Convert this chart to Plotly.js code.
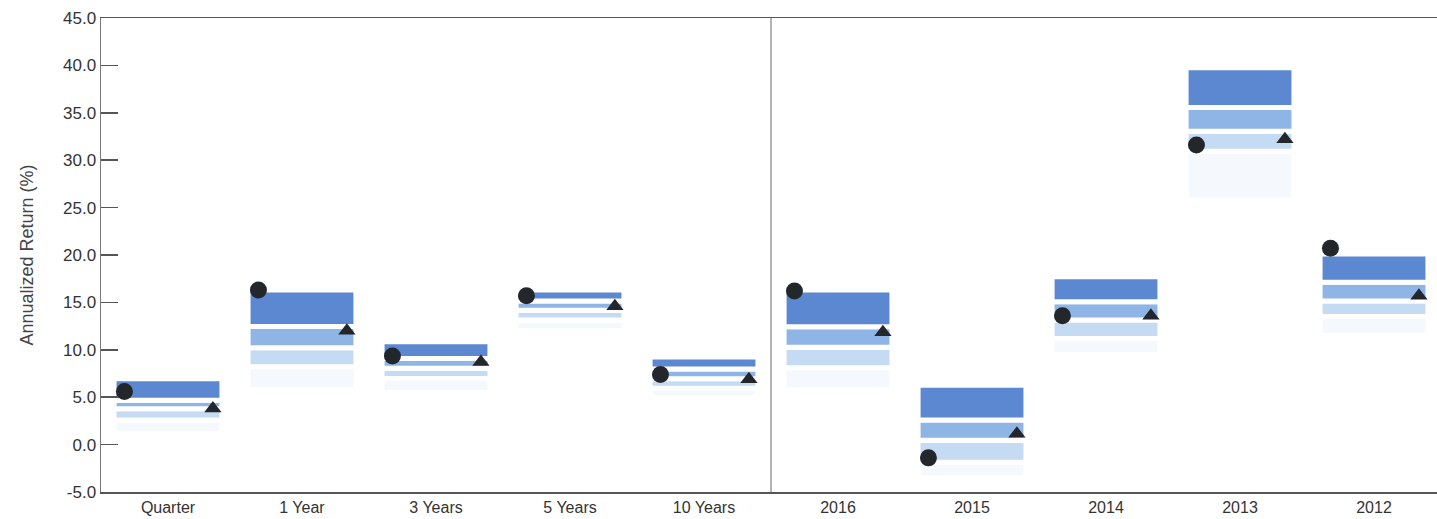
<!DOCTYPE html>
<html>
<head>
<meta charset="utf-8">
<script src="https://cdn.plot.ly/plotly-3.0.1.min.js"></script>
<style>
  html, body { margin: 0; padding: 0; background: #ffffff; }
  #chart { width: 1437px; height: 519px; }
</style>
</head>
<body>
<div id="chart"></div>
<script>
// Categories (periods)
const categories = ['Quarter', '1 Year', '3 Years', '5 Years', '10 Years', '2016', '2015', '2014', '2013', '2012'];

// Y tick labels
const yTickVals = [-5, 0, 5, 10, 15, 20, 25, 30, 35, 40, 45];
const yTickText = ['-5.0', '0.0', '5.0', '10.0', '15.0', '20.0', '25.0', '30.0', '35.0', '40.0', '45.0'];

// Peer-group percentile boundaries (%)
const p5  = [6.95, 16.3, 10.84, 16.3, 9.25, 16.3, 6.26, 17.7, 39.76, 20.1];
const p25 = [4.68, 12.47, 9.08, 15.15, 7.98, 12.44, 2.6, 15.07, 35.55, 17.13];
const p50 = [3.78, 10.22, 8.06, 14.18, 6.95, 10.28, 0.45, 13.15, 33.05, 15.15];
const p75 = [2.6, 8.2, 6.97, 13.14, 5.95, 8.1, -1.85, 11.2, 30.95, 13.5];
const p95 = [1.2, 5.8, 5.5, 12.0, 5.0, 5.8, -3.5, 9.5, 25.8, 11.5];

// Fund (circle) and benchmark (triangle) returns (%)
const fund      = [5.6, 16.3, 9.35, 15.7, 7.4, 16.2, -1.4, 13.6, 31.6, 20.7];
const benchmark = [3.8, 12.0, 8.7, 14.6, 6.9, 11.85, 1.15, 13.6, 32.2, 15.7];

const idx = categories.map((c, i) => i);
const barWidth = 0.805;
const markerOffset = 0.325;

function band(top, bottom, color) {
  return {
    type: 'bar',
    x: idx,
    base: bottom,
    y: top.map((t, i) => t - bottom[i]),
    width: barWidth,
    marker: { color: color, line: { color: '#ffffff', width: 5 } },
    hoverinfo: 'skip',
    showlegend: false
  };
}

const traces = [
  band(p75, p95, '#f5f8fd'),
  band(p50, p75, '#c5daf3'),
  band(p25, p50, '#8fb5e7'),
  band(p5, p25, '#5b88d0'),
  {
    type: 'scatter', mode: 'markers',
    x: idx.map(i => i - markerOffset), y: fund,
    marker: { symbol: 'circle', size: 17, color: '#23272c' },
    showlegend: false, hoverinfo: 'y'
  },
  {
    type: 'scatter', mode: 'markers',
    x: idx.map(i => i + markerOffset + 0.01), y: benchmark,
    marker: { symbol: 'triangle-up', size: 15, color: '#23272c' },
    showlegend: false, hoverinfo: 'y'
  }
];

const layout = {
  width: 1437, height: 519,
  margin: { l: 101, r: 0, t: 18, b: 27 },
  paper_bgcolor: '#ffffff', plot_bgcolor: '#ffffff',
  barmode: 'overlay',
  showlegend: false,
  font: { family: 'Liberation Sans, Arial, sans-serif', color: '#3a3a3a' },
  xaxis: {
    type: 'linear',
    range: [-0.5, 9.47],
    tickmode: 'array', tickvals: idx, ticktext: categories,
    showgrid: false, zeroline: false,
    showline: true, mirror: true, linecolor: '#555555', linewidth: 1.5,
    ticks: '',
    tickfont: { family: 'Liberation Sans, Arial, sans-serif', size: 16, color: '#333333' }
  },
  yaxis: {
    range: [-5, 45],
    tickmode: 'array', tickvals: yTickVals, ticktext: yTickText,
    showgrid: false, zeroline: false,
    showline: true, linecolor: '#777777', linewidth: 1.5,
    ticks: 'inside', ticklen: 17, tickcolor: '#555555', tickwidth: 1.5,
    tickfont: { family: 'Liberation Sans, Arial, sans-serif', size: 17, color: '#333333' },
    title: { text: 'Annualized Return (%)', font: { family: 'Liberation Sans, Arial, sans-serif', size: 18, color: '#444444' }, standoff: 24 }
  },
  shapes: [
    { type: 'line', xref: 'x', yref: 'paper', x0: 4.5, x1: 4.5, y0: 0, y1: 1,
      line: { color: '#9a9a9a', width: 1.5 } }
  ]
};

Plotly.newPlot('chart', traces, layout, { displayModeBar: false, staticPlot: true });
</script>
</body>
</html>
